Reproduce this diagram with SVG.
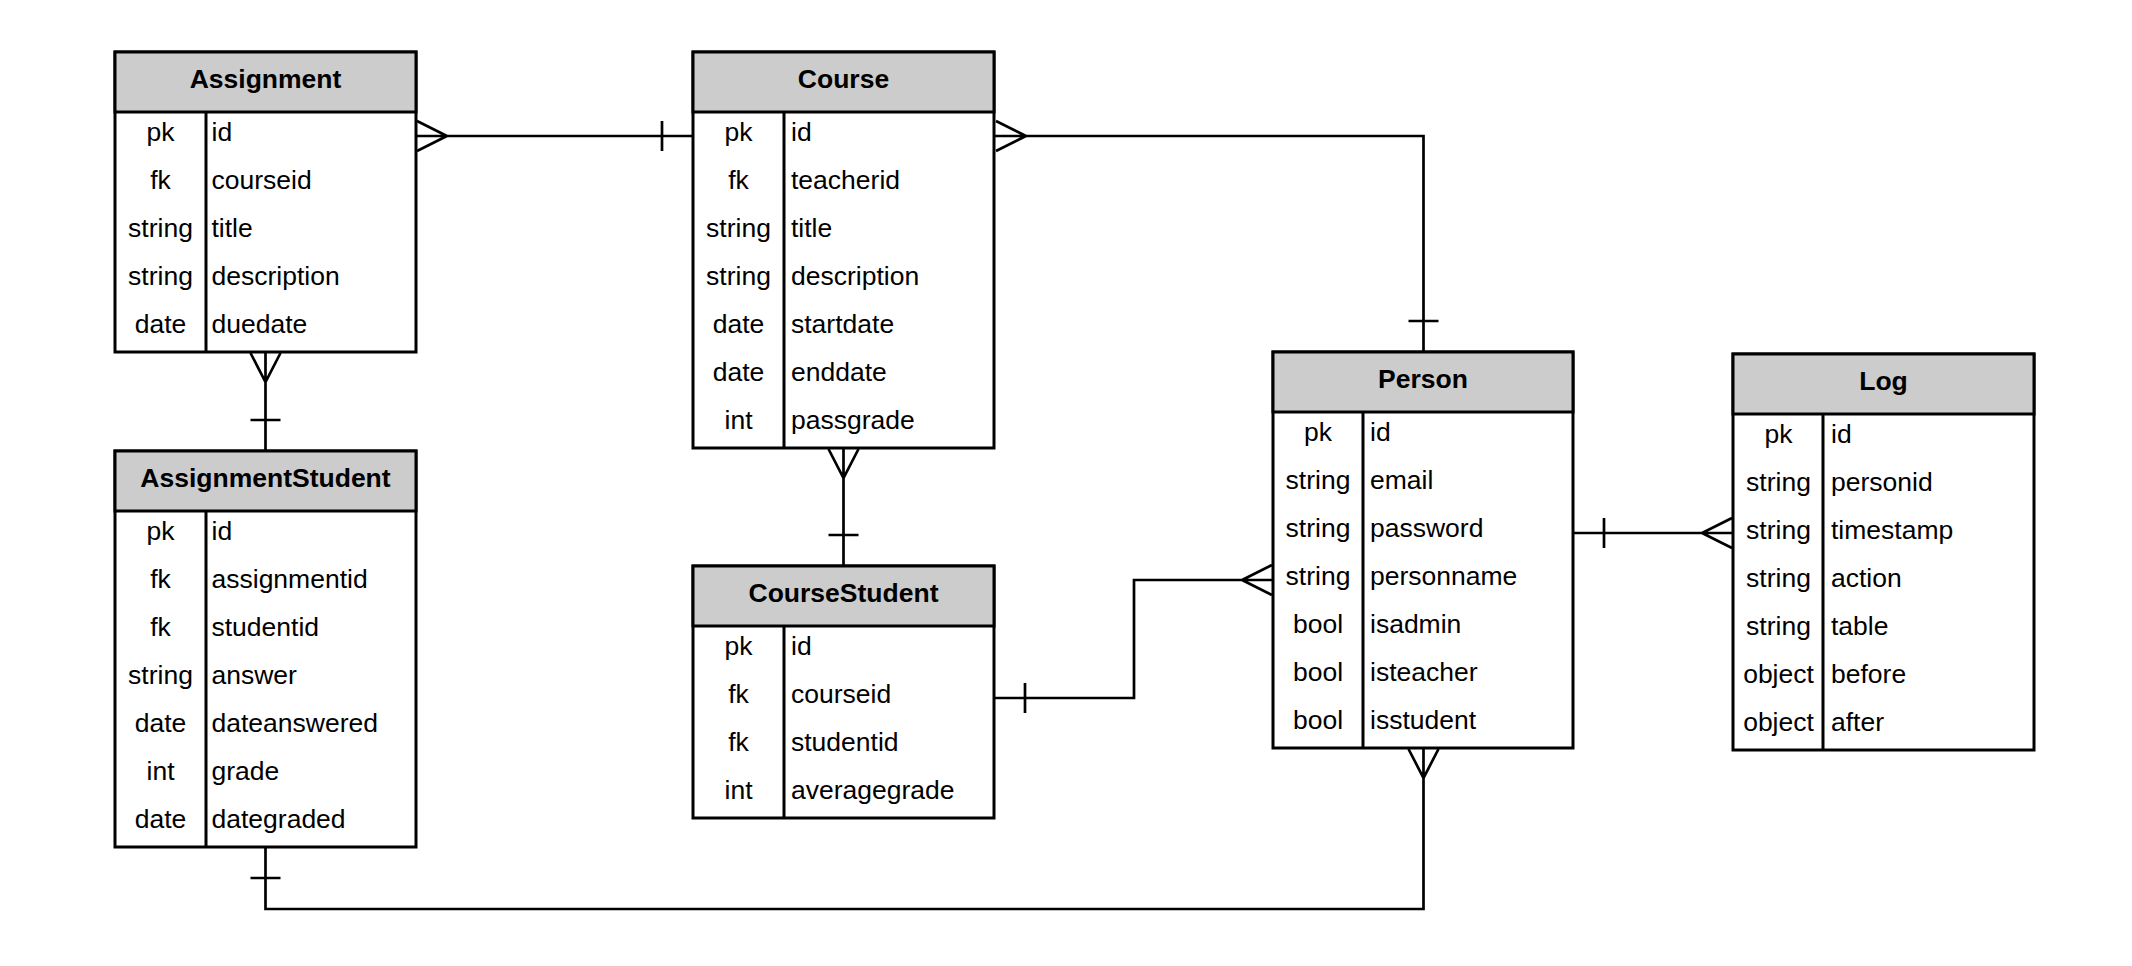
<svg xmlns="http://www.w3.org/2000/svg" width="2132" height="966" viewBox="0 0 2132 966">
<style>
.box{fill:#ffffff;stroke:#000;stroke-width:3}
.hd{fill:#cccccc;stroke:#000;stroke-width:3}
.dv{stroke:#000;stroke-width:3}
.t{font-family:"Liberation Sans",Arial,sans-serif;font-size:26.5px;fill:#000}
.h{font-family:"Liberation Sans",Arial,sans-serif;font-size:26.5px;font-weight:bold;fill:#000;text-anchor:middle}
.ty{text-anchor:middle}
.c{fill:none;stroke:#000;stroke-width:2.7}
</style>
<rect width="2132" height="966" fill="#ffffff"/>
<g id="connectors">
<!-- Assignment - Course -->
<path class="c" d="M416 136H693M417 121L447 136L417 151M662 121V151"/>
<!-- Course - Person -->
<path class="c" d="M994 136H1423.5V352M996 121L1026 136L996 151M1408.5 321H1438.5"/>
<!-- Assignment - AssignmentStudent -->
<path class="c" d="M265.5 352V451M250.5 353L265.5 382L280.5 353M250.5 420H280.5"/>
<!-- Course - CourseStudent -->
<path class="c" d="M843.5 448V566M828.5 449L843.5 478L858.5 449M828.5 535H858.5"/>
<!-- CourseStudent - Person -->
<path class="c" d="M994 698H1134V580H1273M1025 683V713M1272 565L1242 580L1272 595"/>
<!-- Person - AssignmentStudent -->
<path class="c" d="M1423.5 748V909H265.5V847M1408.5 749L1423.5 778L1438.5 749M250.5 878H280.5"/>
<!-- Person - Log -->
<path class="c" d="M1573 533H1733M1604 518V548M1732 518L1702 533L1732 548"/>
</g>
<g id="Assignment">
<rect class="box" x="115" y="52" width="301" height="300"/>
<rect class="hd" x="115" y="52" width="301" height="60"/>
<line class="dv" x1="206" y1="112" x2="206" y2="352"/>
<text class="h" x="265.5" y="88">Assignment</text>
<g class="t">
<text class="ty" x="160.5" y="141">pk</text><text x="211.5" y="141">id</text>
<text class="ty" x="160.5" y="189">fk</text><text x="211.5" y="189">courseid</text>
<text class="ty" x="160.5" y="237">string</text><text x="211.5" y="237">title</text>
<text class="ty" x="160.5" y="285">string</text><text x="211.5" y="285">description</text>
<text class="ty" x="160.5" y="333">date</text><text x="211.5" y="333">duedate</text>
</g>
</g>
<g id="Course">
<rect class="box" x="693" y="52" width="301" height="396"/>
<rect class="hd" x="693" y="52" width="301" height="60"/>
<line class="dv" x1="784" y1="112" x2="784" y2="448"/>
<text class="h" x="843.5" y="88">Course</text>
<g class="t">
<text class="ty" x="738.5" y="141">pk</text><text x="791" y="141">id</text>
<text class="ty" x="738.5" y="189">fk</text><text x="791" y="189">teacherid</text>
<text class="ty" x="738.5" y="237">string</text><text x="791" y="237">title</text>
<text class="ty" x="738.5" y="285">string</text><text x="791" y="285">description</text>
<text class="ty" x="738.5" y="333">date</text><text x="791" y="333">startdate</text>
<text class="ty" x="738.5" y="381">date</text><text x="791" y="381">enddate</text>
<text class="ty" x="738.5" y="429">int</text><text x="791" y="429">passgrade</text>
</g>
</g>
<g id="AssignmentStudent">
<rect class="box" x="115" y="451" width="301" height="396"/>
<rect class="hd" x="115" y="451" width="301" height="60"/>
<line class="dv" x1="206" y1="511" x2="206" y2="847"/>
<text class="h" x="265.5" y="487">AssignmentStudent</text>
<g class="t">
<text class="ty" x="160.5" y="540">pk</text><text x="211.5" y="540">id</text>
<text class="ty" x="160.5" y="588">fk</text><text x="211.5" y="588">assignmentid</text>
<text class="ty" x="160.5" y="636">fk</text><text x="211.5" y="636">studentid</text>
<text class="ty" x="160.5" y="684">string</text><text x="211.5" y="684">answer</text>
<text class="ty" x="160.5" y="732">date</text><text x="211.5" y="732">dateanswered</text>
<text class="ty" x="160.5" y="780">int</text><text x="211.5" y="780">grade</text>
<text class="ty" x="160.5" y="828">date</text><text x="211.5" y="828">dategraded</text>
</g>
</g>
<g id="CourseStudent">
<rect class="box" x="693" y="566" width="301" height="252"/>
<rect class="hd" x="693" y="566" width="301" height="60"/>
<line class="dv" x1="784" y1="626" x2="784" y2="818"/>
<text class="h" x="843.5" y="602">CourseStudent</text>
<g class="t">
<text class="ty" x="738.5" y="655">pk</text><text x="791" y="655">id</text>
<text class="ty" x="738.5" y="703">fk</text><text x="791" y="703">courseid</text>
<text class="ty" x="738.5" y="751">fk</text><text x="791" y="751">studentid</text>
<text class="ty" x="738.5" y="799">int</text><text x="791" y="799">averagegrade</text>
</g>
</g>
<g id="Person">
<rect class="box" x="1273" y="352" width="300" height="396"/>
<rect class="hd" x="1273" y="352" width="300" height="60"/>
<line class="dv" x1="1363" y1="412" x2="1363" y2="748"/>
<text class="h" x="1423" y="388">Person</text>
<g class="t">
<text class="ty" x="1318" y="441">pk</text><text x="1370" y="441">id</text>
<text class="ty" x="1318" y="489">string</text><text x="1370" y="489">email</text>
<text class="ty" x="1318" y="537">string</text><text x="1370" y="537">password</text>
<text class="ty" x="1318" y="585">string</text><text x="1370" y="585">personname</text>
<text class="ty" x="1318" y="633">bool</text><text x="1370" y="633">isadmin</text>
<text class="ty" x="1318" y="681">bool</text><text x="1370" y="681">isteacher</text>
<text class="ty" x="1318" y="729">bool</text><text x="1370" y="729">isstudent</text>
</g>
</g>
<g id="Log">
<rect class="box" x="1733" y="354" width="301" height="396"/>
<rect class="hd" x="1733" y="354" width="301" height="60"/>
<line class="dv" x1="1823" y1="414" x2="1823" y2="750"/>
<text class="h" x="1883.5" y="389.5">Log</text>
<g class="t">
<text class="ty" x="1778.5" y="443">pk</text><text x="1831" y="443">id</text>
<text class="ty" x="1778.5" y="491">string</text><text x="1831" y="491">personid</text>
<text class="ty" x="1778.5" y="539">string</text><text x="1831" y="539">timestamp</text>
<text class="ty" x="1778.5" y="587">string</text><text x="1831" y="587">action</text>
<text class="ty" x="1778.5" y="635">string</text><text x="1831" y="635">table</text>
<text class="ty" x="1778.5" y="683">object</text><text x="1831" y="683">before</text>
<text class="ty" x="1778.5" y="731">object</text><text x="1831" y="731">after</text>
</g>
</g>
</svg>
